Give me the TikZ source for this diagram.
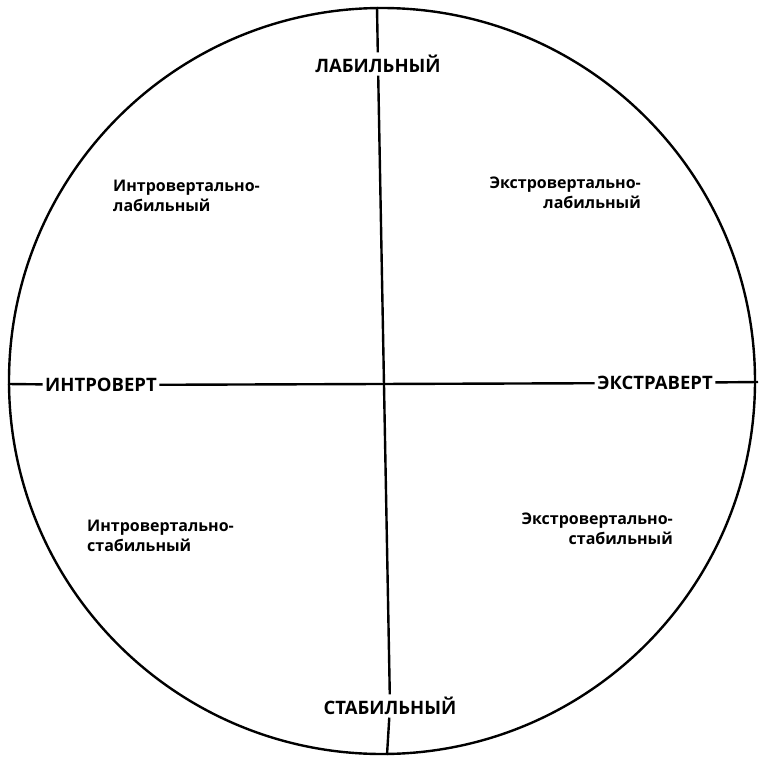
\documentclass[tikz,border=0pt]{standalone}
\usepackage{fontspec}
\setmainfont{Open Sans}
\begin{document}
\begin{tikzpicture}[x=1pt,y=-1pt,
  axislabel/.style={font=\bfseries\fontsize{18.5}{18}\selectfont, inner sep=2.5pt},
  quadlabel/.style={font=\bfseries\fontsize{16}{19.5}\selectfont, inner sep=0pt},
  axisline/.style={line width=2.4pt}]
\useasboundingbox (0,0) rectangle (761,758);
\coordinate (O) at (382,381);
\draw[line width=2.4pt] (O) circle (373);
\coordinate (T) at (377,7);
\coordinate (B) at (387,755);
\coordinate (L) at (8,384);
\coordinate (R) at (758,382);
\node[axislabel] (lab) at (378,64) {ЛАБИЛЬНЫЙ};
\node[axislabel] (stab) at (390,706) {СТАБИЛЬНЫЙ};
\node[axislabel] (intro) at (101,385) {ИНТРОВЕРТ};
\node[axislabel] (extra) at (655,383) {ЭКСТРАВЕРТ};
\draw[axisline] (T) -- (lab);
\draw[axisline] (lab) -- (stab);
\draw[axisline] (stab) -- (B);
\draw[axisline] (L) -- (intro);
\draw[axisline] (intro) -- (extra);
\draw[axisline] (extra) -- (R);
\node[quadlabel, align=left, anchor=north west] (il) at (113,180) {Интровертально-\\лабильный};
\node[quadlabel, align=right, anchor=north east] (el) at (641,177) {Экстровертально-\\лабильный};
\node[quadlabel, align=left, anchor=north west] (is) at (87,520) {Интровертально-\\стабильный};
\node[quadlabel, align=right, anchor=north east] (es) at (673,513) {Экстровертально-\\стабильный};
\end{tikzpicture}
\end{document}
